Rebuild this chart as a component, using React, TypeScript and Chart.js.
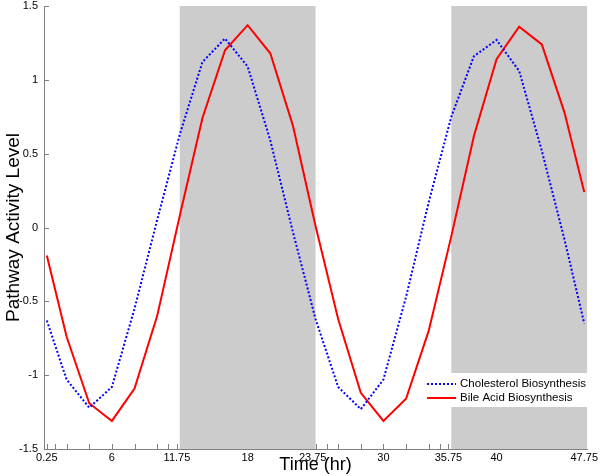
import React, { useEffect, useRef } from "react";
import { Chart, registerables } from "chart.js";

Chart.register(...registerables);

// Sample times (hours)
const hours = [0.25, 2, 4, 6, 8, 10, 12, 14, 16, 18, 20, 22, 24, 26, 28, 30, 32, 34, 36, 38, 40, 42, 44, 46, 47.75];
// Pathway activity levels
const cholesterol = [-0.63, -1.03, -1.22, -1.08, -0.55, 0.05, 0.63, 1.12, 1.28, 1.09, 0.59, -0.03, -0.62, -1.08, -1.23, -1.03, -0.47, 0.17, 0.75, 1.16, 1.27, 1.06, 0.52, -0.08, -0.65];
const bileAcid = [-0.19, -0.74, -1.19, -1.31, -1.09, -0.6, 0.08, 0.74, 1.2, 1.37, 1.18, 0.69, 0.01, -0.62, -1.12, -1.31, -1.16, -0.7, -0.06, 0.62, 1.14, 1.36, 1.24, 0.78, 0.24];

const seriesNames = ["Cholesterol Biosynthesis", "Bile Acid Biosynthesis"];
const xTickLabels = [0.25, 6, 11.75, 18, 23.75, 30, 35.75, 40, 47.75];
const xMinorTicks = [0.25, 1, 2, 4, 6, 8, 10, 11, 11.75, 24, 25, 26, 28, 30, 32, 34, 35, 35.75];
const yTicks = [-1.5, -1, -0.5, 0, 0.5, 1, 1.5];
const darkStarts = [12, 36];
const darkEnds = [24, 48];

const FONT = "'Liberation Sans', Arial, Helvetica, sans-serif";

export default function App() {
  const ref = useRef<HTMLCanvasElement | null>(null);

  useEffect(() => {
    document.body.style.margin = "0";
    const canvas = ref.current;
    if (!canvas) return;

    const shading = {
      id: "shading",
      beforeDatasetsDraw(chart: any) {
        const { ctx, chartArea, scales } = chart;
        const x = scales.x;
        const y = scales.y;
        ctx.save();
        ctx.strokeStyle = "#808080";
        ctx.lineWidth = 1;
        ctx.beginPath();
        for (const t of xMinorTicks) {
          const px = Math.round(x.getPixelForValue(t)) + 0.5;
          ctx.moveTo(px, chartArea.bottom);
          ctx.lineTo(px, chartArea.bottom - 5);
        }
        for (const v of yTicks) {
          const py = Math.round(y.getPixelForValue(v)) + 0.5;
          ctx.moveTo(chartArea.left, py);
          ctx.lineTo(chartArea.left + 5, py);
        }
        ctx.stroke();
        ctx.fillStyle = "#cccccc";
        for (let i = 0; i < darkStarts.length; i++) {
          const a = x.getPixelForValue(darkStarts[i]);
          const b = x.getPixelForValue(darkEnds[i]);
          ctx.fillRect(a, chartArea.top, b - a, chartArea.bottom - chartArea.top);
        }
        ctx.restore();
      },
      afterDraw(chart: any) {
        const { ctx, chartArea } = chart;
        ctx.save();
        const bx = chartArea.right - 166;
        const by = chartArea.bottom - 76;
        ctx.fillStyle = "#ffffff";
        ctx.fillRect(bx, by, 168, 34);
        const rows = chart.data.datasets;
        ctx.font = `11.5px ${FONT}`;
        ctx.textBaseline = "middle";
        rows.forEach((ds: any, i: number) => {
          const ry = by + 11 + i * 14;
          ctx.strokeStyle = ds.borderColor;
          ctx.lineWidth = 2;
          ctx.setLineDash(ds.borderDash || []);
          ctx.beginPath();
          ctx.moveTo(bx + 6, ry);
          ctx.lineTo(bx + 35, ry);
          ctx.stroke();
          ctx.setLineDash([]);
          ctx.fillStyle = "#000000";
          ctx.fillText(ds.label, bx + 39, ry);
        });
        ctx.restore();
      },
    };

    const chart = new Chart(canvas, {
      type: "line",
      data: {
        datasets: [
          {
            label: seriesNames[0],
            data: hours.map((h, i) => ({ x: h, y: cholesterol[i] })),
            borderColor: "#0000ff",
            borderWidth: 2,
            borderDash: [2, 2],
            pointRadius: 0,
            tension: 0,
            fill: false,
          },
          {
            label: seriesNames[1],
            data: hours.map((h, i) => ({ x: h, y: bileAcid[i] })),
            borderColor: "#ff0000",
            borderWidth: 2,
            pointRadius: 0,
            tension: 0,
            fill: false,
          },
        ],
      },
      options: {
        animation: false,
        responsive: false,
        maintainAspectRatio: false,
        layout: { padding: { top: 6, right: 0, left: 0, bottom: 0 } },
        plugins: { legend: { display: false }, tooltip: { enabled: false } },
        scales: {
          x: {
            type: "linear",
            min: 0,
            max: 48,
            afterBuildTicks: (s: any) => {
              s.ticks = xTickLabels.map((v) => ({ value: v }));
            },
            afterFit: (s: any) => {
              s.height = 27;
            },
            grid: { display: false, drawTicks: false },
            border: { display: true, color: "#808080", width: 1 },
            ticks: {
              autoSkip: false,
              maxRotation: 0,
              padding: 2,
              color: "#000000",
              font: { family: FONT, size: 11 },
              callback: (v: any) => String(v),
            },
            title: {
              display: true,
              text: "Time (hr)",
              color: "#000000",
              font: { family: FONT, size: 18 },
              padding: { top: 0, bottom: 0 },
            },
          },
          y: {
            min: -1.5,
            max: 1.5,
            afterBuildTicks: (s: any) => {
              s.ticks = yTicks.map((v) => ({ value: v }));
            },
            afterFit: (s: any) => {
              s.width = 44;
              s.paddingTop = 0;
              s.paddingBottom = 0;
            },
            grid: { display: false, drawTicks: false },
            border: { display: true, color: "#808080", width: 1 },
            ticks: {
              padding: 6,
              color: "#000000",
              font: { family: FONT, size: 11 },
              callback: (v: any) => String(v),
            },
            title: {
              display: true,
              text: "Pathway Activity Level",
              color: "#000000",
              font: { family: FONT, size: 19 },
              padding: { top: 2, bottom: 0 },
            },
          },
        },
      },
      plugins: [shading],
    });

    return () => chart.destroy();
  }, []);

  return (
    <div style={{ width: 600, height: 476 }}>
      <canvas ref={ref} width={600} height={476} style={{ display: "block" }} />
    </div>
  );
}
